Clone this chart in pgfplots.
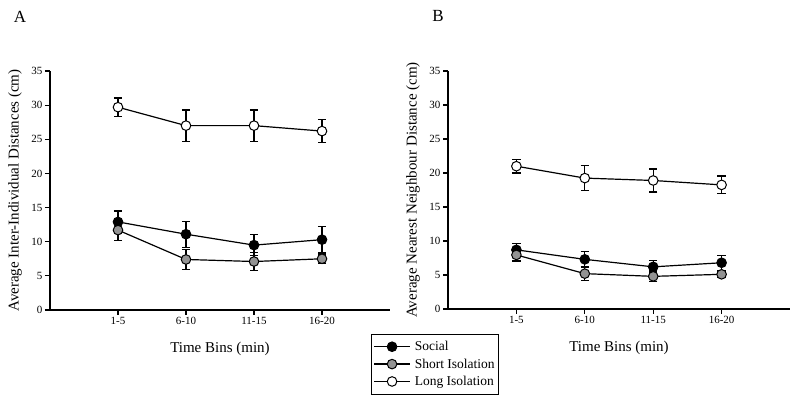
\documentclass[border=0pt]{standalone}
\usepackage{fontspec}
\setmainfont{Liberation Serif}
\usepackage{pgfplots}
\pgfplotsset{compat=1.18}
\usepackage{pgfplotstable}

\pgfplotstableread{
x y e
1 12.9 1.6
2 11.1 1.9
3 9.5 1.5
4 10.3 1.9
}\AsocTab
\pgfplotstableread{
x y e
1 11.7 1.5
2 7.4 1.5
3 7.1 1.3
4 7.5 0.7
}\AshortTab
\pgfplotstableread{
x y e
1 29.7 1.35
2 27.0 2.3
3 27.0 2.3
4 26.2 1.65
}\AlongTab
\pgfplotstableread{
x y e
1 8.7 0.9
2 7.3 1.2
3 6.2 0.9
4 6.8 1.1
}\BsocTab
\pgfplotstableread{
x y e
1 7.95 0.9
2 5.2 1.0
3 4.8 0.8
4 5.1 0.5
}\BshortTab
\pgfplotstableread{
x y e
1 21.0 1.0
2 19.25 1.8
3 18.9 1.7
4 18.25 1.3
}\BlongTab

\pgfplotsset{
  panel/.style={
    scale only axis,
    anchor=origin,
    xmin=0, xmax=5, ymin=0, ymax=35,
    axis x line=bottom, axis y line=left,
    axis line style={-, line width=1.5pt},
    xtick={1,2,3,4},
    xticklabels={1-5,6-10,11-15,16-20},
    ytick={0,5,...,35},
    tick align=outside,
    major tick length=5pt,
    tick style={line width=1.2pt, black},
    tick label style={font=\fontsize{11}{12}\selectfont},
    /pgf/number format/assume math mode=true,
    yticklabel style={xshift=1pt},
    xticklabel style={yshift=1pt},
    every axis x label/.style={at={(axis description cs:0.5,-0.163)}, anchor=center, font=\fontsize{15}{17}\selectfont},
    clip=false,
  },
  ser/.style={
    black, line width=1.2pt, mark=*, mark size=4.8pt,
    error bars/y dir=both, error bars/y explicit,
    error bars/error bar style={line width=1.2pt, black},
    error bars/error mark options={rotate=90, mark size=4.2pt, line width=1.2pt, black},
  },
  soc/.style={ser, mark options={fill=black, draw=black, line width=1pt}},
  short/.style={ser, mark options={fill=gray!85, draw=black, line width=1pt}},
  long/.style={ser, mark options={fill=white, draw=black, line width=1pt}},
}

\begin{document}
\begin{tikzpicture}
\useasboundingbox (0,0) rectangle (800pt,404pt);

\begin{axis}[panel, at={(50pt,94pt)}, width=340pt, height=239pt,
  xlabel={Time Bins (min)},
  ylabel={Average Inter-Individual Distances (cm)},
  every axis y label/.style={at={(axis description cs:-0.103,0.5)}, rotate=90, anchor=center, font=\fontsize{15}{17}\selectfont},
  legend style={at={(axis description cs:0.944,-0.1)}, anchor=north west,
    draw=black, line width=0.8pt, font=\fontsize{13.5}{16.5}\selectfont,
    inner xsep=2pt, inner ysep=5pt, row sep=2.5pt,
    /tikz/every odd column/.append style={column sep=0pt},
    /tikz/every even column/.append style={column sep=8pt}},
  legend cell align=left,
  legend image code/.code={
    \draw[black, line width=1.4pt] (-2pt,0pt) -- (34pt,0pt);
    \draw[#1, line width=1pt] plot coordinates {(16pt,0pt)};
  },
]
\addplot+[soc] table[x=x, y=y, y error=e] {\AsocTab};
\addlegendentry{\hspace{2pt}Social\hspace{8pt}}
\addplot+[short] table[x=x, y=y, y error=e] {\AshortTab};
\addlegendentry{\hspace{2pt}Short Isolation\hspace{8pt}}
\addplot+[long] table[x=x, y=y, y error=e] {\AlongTab};
\addlegendentry{\hspace{2pt}Long Isolation\hspace{8pt}}
\end{axis}

\begin{axis}[panel, at={(448pt,95pt)}, width=342pt, height=238pt,
  xlabel={Time Bins (min)},
  ylabel={Average Nearest Neighbour Distance (cm)},
  every axis y label/.style={at={(axis description cs:-0.102,0.5)}, rotate=90, anchor=center, font=\fontsize{15}{17}\selectfont},
]
\addplot+[soc] table[x=x, y=y, y error=e] {\BsocTab};
\addplot+[short] table[x=x, y=y, y error=e] {\BshortTab};
\addplot+[long] table[x=x, y=y, y error=e] {\BlongTab};
\end{axis}

\node[font=\fontsize{17}{19}\selectfont] at (20pt,387pt) {A};
\node[font=\fontsize{17}{19}\selectfont] at (438pt,388pt) {B};
\end{tikzpicture}
\end{document}
